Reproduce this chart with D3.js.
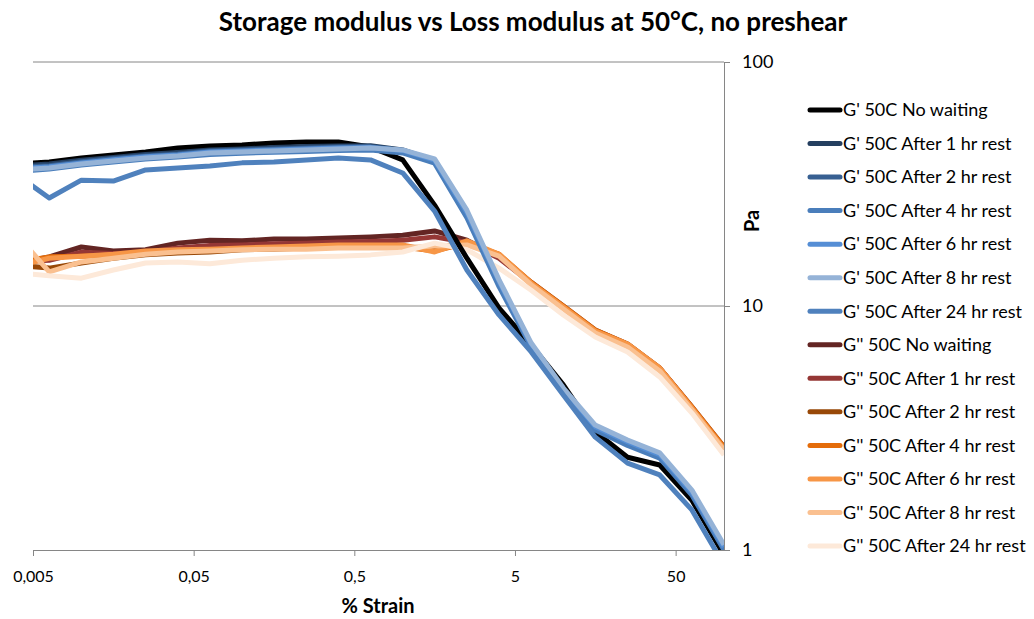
<!DOCTYPE html>
<html>
<head>
<meta charset="utf-8">
<script src="https://cdn.jsdelivr.net/npm/d3@7"></script>
<style>
  html, body { margin: 0; padding: 0; background: #fff; }
  svg { display: block; }
  text { font-family: Lato, "Open Sans", "Liberation Sans", sans-serif; fill: #000; }
</style>
</head>
<body>
<svg id="chart" width="1034" height="619"></svg>
<script>
// % strain sampled at 5 points per decade
const strain = [0.00398, 0.00631, 0.01, 0.0158, 0.0251, 0.0398, 0.0631, 0.1, 0.158, 0.251,
  0.398, 0.631, 1, 1.58, 2.51, 3.98, 6.31, 10, 15.8, 25.1, 39.8, 63.1, 100];

// Storage modulus G' (Pa)
const gpNoWait = [38.2, 38.9, 40.4, 41.6, 42.8, 44.4, 45.3, 45.7, 46.6, 47.0, 47.0, 44.8, 39.7, 25.9, 15.7, 9.81, 6.92, 4.75, 3.05, 2.40, 2.23, 1.60, 0.954];
const gp1h = [37.5, 38.2, 39.6, 40.6, 41.8, 42.6, 43.6, 44.0, 44.6, 45.0, 45.3, 45.4, 43.6, 39.4, 23.8, 12.4, 6.9, 4.55, 3.18, 2.74, 2.42, 1.72, 1.02];
const gp2h = [37.0, 37.6, 39.0, 40.2, 41.2, 42.0, 43.2, 43.6, 44.0, 44.4, 44.8, 45.0, 43.4, 39.2, 23.6, 12.3, 6.85, 4.5, 3.15, 2.72, 2.40, 1.70, 1.01];
const gp4h = [35.6, 36.4, 37.8, 38.9, 40.0, 40.8, 41.8, 42.3, 42.7, 43.0, 43.4, 43.6, 42.4, 38.5, 23.0, 12.0, 6.8, 4.45, 3.10, 2.68, 2.38, 1.68, 1.0];
const gp6h = [36.5, 37.2, 38.6, 39.8, 40.9, 41.6, 42.8, 43.2, 43.6, 44.0, 44.4, 44.6, 43.4, 39.6, 24.2, 12.6, 6.95, 4.55, 3.2, 2.78, 2.46, 1.73, 1.03];
const gp8h = [36.1, 36.8, 38.2, 39.3, 40.4, 41.2, 42.4, 42.8, 43.2, 43.6, 44.0, 44.4, 43.6, 40.1, 24.7, 12.8, 7.05, 4.61, 3.25, 2.82, 2.50, 1.76, 1.05];
const gp24h = [34.4, 27.7, 32.8, 32.5, 36.1, 36.8, 37.5, 38.6, 38.9, 39.7, 40.4, 39.7, 35.1, 24.5, 14.05, 9.19, 6.48, 4.32, 2.90, 2.27, 2.03, 1.46, 0.868];

// Loss modulus G'' (Pa)
const gppNoWait = [15.0, 15.9, 17.45, 16.8, 17.0, 18.1, 18.6, 18.5, 18.8, 18.8, 19.0, 19.2, 19.5, 20.3, 18.6, 15.9, 12.5, 10.0, 7.97, 6.99, 5.57, 3.86, 2.64];
const gpp1h = [15.2, 15.4, 16.6, 16.4, 16.6, 17.3, 17.7, 17.8, 18.0, 18.1, 18.3, 18.4, 18.6, 19.2, 18.2, 15.7, 12.4, 9.9, 7.9, 6.95, 5.55, 3.84, 2.62];
const gpp2h = [14.7, 14.3, 15.0, 15.7, 16.2, 16.5, 16.65, 17.0, 17.1, 17.3, 17.45, 17.6, 17.45, 17.3, 18.3, 16.2, 12.4, 9.9, 7.9, 6.92, 5.52, 3.82, 2.62];
const gpp4h = [15.15, 15.9, 16.0, 16.2, 16.5, 16.8, 17.0, 17.1, 17.3, 17.45, 17.6, 17.6, 17.45, 16.8, 18.1, 16.3, 12.5, 10.0, 7.97, 6.99, 5.57, 3.86, 2.64];
const gpp6h = [14.6, 15.7, 16.0, 16.3, 16.8, 17.0, 17.1, 17.3, 17.45, 17.6, 17.8, 17.8, 17.8, 16.65, 18.5, 16.3, 12.4, 9.9, 7.9, 6.99, 5.57, 3.82, 2.60];
const gpp8h = [19.5, 13.8, 15.15, 15.7, 16.3, 16.65, 16.8, 17.0, 17.1, 17.1, 17.3, 17.3, 17.3, 17.6, 17.8, 16.0, 12.2, 9.72, 7.75, 6.79, 5.42, 3.75, 2.57];
const gpp24h = [13.7, 13.3, 13.0, 14.05, 15.0, 15.15, 14.9, 15.4, 15.7, 15.9, 16.0, 16.2, 16.65, 18.1, 17.0, 14.3, 11.6, 9.19, 7.46, 6.48, 5.12, 3.64, 2.45];

const seriesNames = [
  "G' 50C No waiting", "G' 50C After 1 hr rest", "G' 50C After 2 hr rest", "G' 50C After 4 hr rest",
  "G' 50C After 6 hr rest", "G' 50C After 8 hr rest", "G' 50C After 24 hr rest",
  "G'' 50C No waiting", "G'' 50C After 1 hr rest", "G'' 50C After 2 hr rest", "G'' 50C After 4 hr rest",
  "G'' 50C After 6 hr rest", "G'' 50C After 8 hr rest", "G'' 50C After 24 hr rest"
];
const seriesValues = [gpNoWait, gp1h, gp2h, gp4h, gp6h, gp8h, gp24h,
  gppNoWait, gpp1h, gpp2h, gpp4h, gpp6h, gpp8h, gpp24h];
const seriesColors = ["#000000", "#243f60", "#376092", "#4a7ebb", "#558ed5", "#95b3d7", "#4f81bd",
  "#632523", "#953735", "#984807", "#e46c0a", "#f79646", "#fac090", "#fde9d9"];

const xTicks = [0.005, 0.05, 0.5, 5, 50];
const xTickLabels = ["0,005", "0,05", "0,5", "5", "50"];
const yTicks = [1, 10, 100];
const yTickLabels = ["1", "10", "100"];

const svg = d3.select("#chart");
const plot = { left: 33, right: 724, top: 62, bottom: 550 };

const x = d3.scaleLog().domain([0.005, 100]).range([plot.left, plot.right]);
const y = d3.scaleLog().domain([1, 100]).range([plot.bottom, plot.top]);

const axisGrey = "#868686";

// title
svg.append("text")
  .attr("x", 533).attr("y", 31)
  .attr("text-anchor", "middle")
  .style("font-size", "26px").style("font-weight", "bold")
  .text("Storage modulus vs Loss modulus at 50°C, no preshear");

// horizontal gridlines
svg.append("g").selectAll("line")
  .data(yTicks.filter(d => d > 1))
  .join("line")
  .attr("x1", plot.left).attr("x2", plot.right)
  .attr("y1", d => y(d)).attr("y2", d => y(d))
  .attr("stroke", axisGrey).attr("stroke-width", 1);

// x axis
const xAxis = d3.axisBottom(x)
  .tickValues(xTicks)
  .tickFormat((d, i) => xTickLabels[i])
  .tickSize(6).tickPadding(15);
const gx = svg.append("g")
  .attr("transform", `translate(0,${plot.bottom})`)
  .call(xAxis);
gx.select(".domain").attr("stroke", axisGrey).attr("d", `M${plot.left},0.5H${plot.right}`);
gx.selectAll(".tick line").attr("stroke", axisGrey);
gx.selectAll(".tick text")
  .style("font-size", "16px")
  .style("font-family", "Lato, 'Open Sans', sans-serif")
  .attr("fill", "#000");

// y axis on the right
const yAxis = d3.axisRight(y)
  .tickValues(yTicks)
  .tickFormat((d, i) => yTickLabels[i])
  .tickSize(6).tickPadding(12);
const gy = svg.append("g")
  .attr("transform", `translate(${plot.right},0)`)
  .call(yAxis);
gy.select(".domain").attr("stroke", axisGrey).attr("d", `M0.5,${plot.top}V${plot.bottom}`);
gy.selectAll(".tick line").attr("stroke", axisGrey);
gy.selectAll(".tick text")
  .style("font-size", "18px")
  .style("font-family", "Lato, 'Open Sans', sans-serif")
  .attr("fill", "#000");

// axis titles
svg.append("text")
  .attr("x", 378).attr("y", 613)
  .attr("text-anchor", "middle")
  .style("font-size", "20px").style("font-weight", "bold")
  .text("% Strain");
svg.append("text")
  .attr("transform", "translate(759,221) rotate(-90)")
  .attr("text-anchor", "middle")
  .style("font-size", "20px").style("font-weight", "bold")
  .text("Pa");

// clip to plot area
svg.append("clipPath").attr("id", "plotClip")
  .append("rect")
  .attr("x", plot.left).attr("y", plot.top)
  .attr("width", plot.right - plot.left).attr("height", plot.bottom - plot.top);

const line = d3.line()
  .x((d, i) => x(strain[i]))
  .y(d => y(d));

// G'' drawn first, G' on top
const drawOrder = [7, 8, 9, 10, 11, 12, 13, 0, 1, 2, 3, 4, 5, 6];
svg.append("g").attr("clip-path", "url(#plotClip)")
  .selectAll("path")
  .data(drawOrder)
  .join("path")
  .attr("d", i => line(seriesValues[i]))
  .attr("fill", "none")
  .attr("stroke", i => seriesColors[i])
  .attr("stroke-width", 5)
  .attr("stroke-linejoin", "round");

// legend
const legend = svg.append("g");
const rowY = d3.scaleLinear().domain([0, seriesNames.length - 1]).range([110, 546]);
const rows = legend.selectAll("g")
  .data(seriesNames)
  .join("g")
  .attr("transform", (d, i) => `translate(0,${rowY(i)})`);
rows.append("line")
  .attr("x1", 810).attr("x2", 840)
  .attr("stroke", (d, i) => seriesColors[i])
  .attr("stroke-width", 5)
  .attr("stroke-linecap", "round");
rows.append("text")
  .attr("x", 843).attr("y", 0)
  .attr("dy", "0.35em")
  .style("font-size", "18px")
  .text(d => d);
</script>
</body>
</html>
